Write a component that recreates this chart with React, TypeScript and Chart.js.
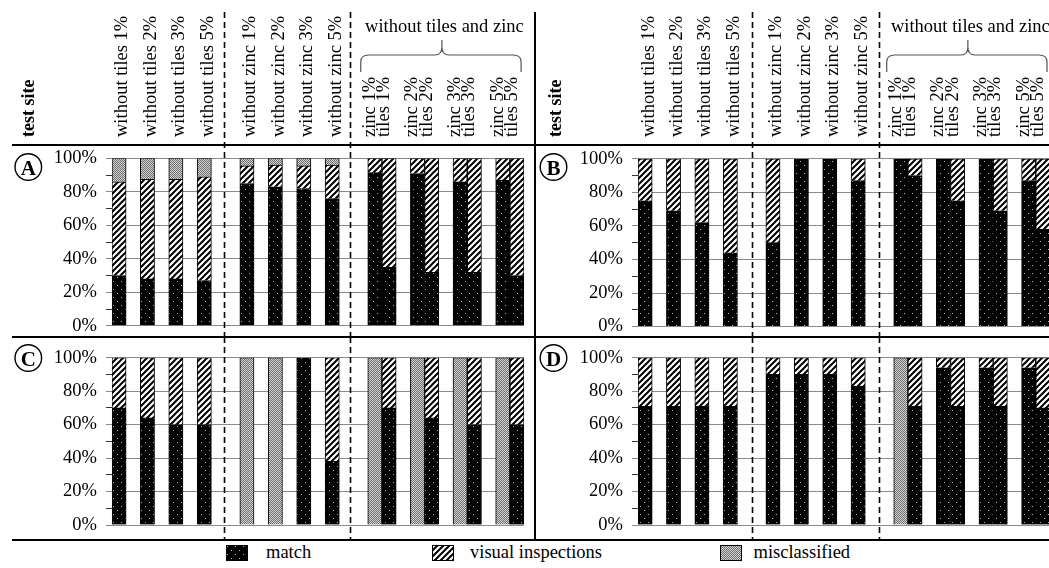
import React, { useEffect, useRef } from "react";
import { Chart, registerables } from "chart.js";

Chart.register(...registerables);

const FONT = "'Liberation Serif', 'Times New Roman', Times, serif";

// ---------- categories ----------
const SINGLE_LABELS = [
  "without tiles 1%",
  "without tiles 2%",
  "without tiles 3%",
  "without tiles 5%",
  "without zinc 1%",
  "without zinc 2%",
  "without zinc 3%",
  "without zinc 5%",
];
const PAIR_LABELS = [
  ["zinc 1%", "tiles 1%"],
  ["zinc 2%", "tiles 2%"],
  ["zinc 3%", "tiles 3%"],
  ["zinc 5%", "tiles 5%"],
];
const GROUP_TITLE = "without tiles and zinc";
const AXIS_TITLE = "test site";
const SERIES = ["match", "visual inspections", "misclassified"];
const Y_LABELED = [0, 20, 40, 60, 80, 100];

// ---------- values (percent) ----------
const A_MATCH = [30, 28, 28, 27, 85, 83, 82, 76, 91.5, 35, 91, 32, 86, 32, 87, 30];
const A_VISUAL = [56, 59.5, 59.5, 62, 10.5, 13, 13.5, 20, 8.5, 65, 9, 68, 14, 68, 13, 70];
const A_MISCL = [14, 12.5, 12.5, 11, 4.5, 4, 4.5, 4, 0, 0, 0, 0, 0, 0, 0, 0];

const B_MATCH = [75, 69, 62, 44, 50, 100, 100, 87, 100, 90, 100, 75, 100, 69, 87, 58];
const B_VISUAL = [25, 31, 38, 56, 50, 0, 0, 13, 0, 10, 0, 25, 0, 31, 13, 42];
const B_MISCL = [0, 0, 0, 0, 0, 0, 0, 0, 0, 0, 0, 0, 0, 0, 0, 0];

const C_MATCH = [70, 64, 60, 60, 0, 0, 100, 38, 0, 70, 0, 64, 0, 60, 0, 60];
const C_VISUAL = [30, 36, 40, 40, 0, 0, 0, 62, 0, 30, 0, 36, 0, 40, 0, 40];
const C_MISCL = [0, 0, 0, 0, 100, 100, 0, 0, 100, 0, 100, 0, 100, 0, 100, 0];

const D_MATCH = [71, 71, 71, 71, 90, 90, 90, 83, 0, 71, 94, 71, 94, 71, 94, 70];
const D_VISUAL = [29, 29, 29, 29, 10, 10, 10, 17, 0, 29, 6, 29, 6, 29, 6, 30];
const D_MISCL = [0, 0, 0, 0, 0, 0, 0, 0, 100, 0, 0, 0, 0, 0, 0, 0];

// ---------- layout of the category axis (B = bar slot, _ = spacer) ----------
const SLOT_PATTERN = "B_B_B_B__B_B_B_B__BB_BB_BB_BB";
const BAR_SLOTS: number[] = SLOT_PATTERN.split("")
  .map((c, i) => (c === "B" ? i : -1))
  .filter((i) => i >= 0);
const BAR_NAMES: string[] = [
  ...SINGLE_LABELS,
  ...PAIR_LABELS.flatMap((p) => p.map((s) => GROUP_TITLE + ": " + s)),
];
const SLOT_LABELS: string[] = SLOT_PATTERN.split("").map((c, i) => {
  const k = BAR_SLOTS.indexOf(i);
  return k >= 0 ? BAR_NAMES[k] : "";
});

function toSlots(values: number[]): (number | null)[] {
  const out: (number | null)[] = new Array(SLOT_PATTERN.length).fill(null);
  values.forEach((v, k) => {
    out[BAR_SLOTS[k]] = v === 0 ? null : v;
  });
  return out;
}

// ---------- patterns ----------
function makeTile(kind: string): HTMLCanvasElement {
  const c = document.createElement("canvas");
  const g = c.getContext("2d")!;
  if (kind === "match") {
    c.width = 8;
    c.height = 8;
    g.fillStyle = "#000";
    g.fillRect(0, 0, 8, 8);
    g.fillStyle = "#b4b4b4";
    g.fillRect(1, 1, 1, 1);
    g.fillRect(5, 5, 1, 1);
  } else if (kind === "visual") {
    const s = 6;
    c.width = s;
    c.height = s;
    g.fillStyle = "#fff";
    g.fillRect(0, 0, s, s);
    g.strokeStyle = "#000";
    g.lineWidth = 2;
    g.beginPath();
    g.moveTo(-1, s + 1);
    g.lineTo(s + 1, -1);
    g.moveTo(-2, 2);
    g.lineTo(2, -2);
    g.moveTo(s - 2, s + 2);
    g.lineTo(s + 2, s - 2);
    g.stroke();
  } else {
    c.width = 2;
    c.height = 2;
    g.fillStyle = "#d4d4d4";
    g.fillRect(0, 0, 2, 2);
    g.fillStyle = "#6e6e6e";
    g.fillRect(0, 0, 1, 1);
    g.fillRect(1, 1, 1, 1);
  }
  return c;
}
function makePattern(ctx: CanvasRenderingContext2D, kind: string): CanvasPattern {
  return ctx.createPattern(makeTile(kind), "repeat")!;
}

// ---------- panels ----------
type Panel = {
  letter: string;
  match: number[];
  visual: number[];
  miscl: number[];
  left: number;
  top: number;
  width: number;
  height: number;
  area: { left: number; right: number; top: number; bottom: number };
  header: boolean;
  letterPos: [number, number];
  dashTop: number;
  breaks: number[];
};

const PANELS: Panel[] = [
  {
    letter: "A", match: A_MATCH, visual: A_VISUAL, miscl: A_MISCL,
    left: 0, top: 0, width: 535, height: 337,
    area: { left: 111.9, right: 524.1, top: 158.4, bottom: 325.8 },
    header: true, letterPos: [28.3, 167], dashTop: 12, breaks: [7.375, 16.27],
  },
  {
    letter: "B", match: B_MATCH, visual: B_VISUAL, miscl: B_MISCL,
    left: 535, top: 0, width: 520, height: 337,
    area: { left: 103, right: 515, top: 158.8, bottom: 326.6 },
    header: true, letterPos: [18.5, 167], dashTop: 12, breaks: [7.5, 16.47],
  },
  {
    letter: "C", match: C_MATCH, visual: C_VISUAL, miscl: C_MISCL,
    left: 0, top: 337, width: 535, height: 203,
    area: { left: 111.9, right: 524.1, top: 20.7, bottom: 188 },
    header: false, letterPos: [28.3, 21], dashTop: 0, breaks: [7.375, 16.27],
  },
  {
    letter: "D", match: D_MATCH, visual: D_VISUAL, miscl: D_MISCL,
    left: 535, top: 337, width: 520, height: 203,
    area: { left: 103, right: 515, top: 20.7, bottom: 188 },
    header: false, letterPos: [18.5, 21], dashTop: 0, breaks: [7.5, 16.47],
  },
];

function makeConfig(p: Panel, ctx: CanvasRenderingContext2D): any {
  const pm = makePattern(ctx, "match");
  const pv = makePattern(ctx, "visual");
  const pg = makePattern(ctx, "mis");

  const decorPlugin = {
    id: "decor" + p.letter,
    afterDraw(chart: any) {
      const c = chart.ctx as CanvasRenderingContext2D;
      const x = chart.scales.x;
      c.save();
      // dashed group separators
      c.strokeStyle = "#000";
      c.lineWidth = 1.6;
      c.setLineDash([6, 4]);
      p.breaks.forEach((b) => {
        const px = Math.round(x.getPixelForValue(b)) + 0.5;
        c.beginPath();
        c.moveTo(px, p.dashTop);
        c.lineTo(px, p.height);
        c.stroke();
      });
      c.setLineDash([]);

      // circled panel letter
      const [lx, ly] = p.letterPos;
      c.lineWidth = 1.4;
      c.beginPath();
      c.arc(lx, ly, 13.3, 0, Math.PI * 2);
      c.stroke();
      c.fillStyle = "#000";
      c.font = `bold 21px ${FONT}`;
      c.textAlign = "center";
      c.textBaseline = "alphabetic";
      c.fillText(p.letter, lx, ly + 7.5);

      if (p.header) {
        const area = chart.chartArea;
        const labelBottom = 137;
        c.font = `18.5px ${FONT}`;
        c.textAlign = "left";
        c.textBaseline = "alphabetic";
        SINGLE_LABELS.forEach((lab, k) => {
          const cx = x.getPixelForValue(BAR_SLOTS[k]);
          c.save();
          c.translate(cx + 8.4, labelBottom);
          c.rotate(-Math.PI / 2);
          c.fillText(lab, 0, 0);
          c.restore();
        });
        PAIR_LABELS.forEach((lines, j) => {
          const k = SINGLE_LABELS.length + 2 * j;
          const mid = (x.getPixelForValue(BAR_SLOTS[k]) + x.getPixelForValue(BAR_SLOTS[k + 1])) / 2;
          lines.forEach((ln, i) => {
            c.save();
            c.translate(mid - 7.2 + 14.3 * i, labelBottom);
            c.rotate(-Math.PI / 2);
            c.fillText(ln, 0, 0);
            c.restore();
          });
        });
        // group title + brace
        const firstPair = BAR_SLOTS[SINGLE_LABELS.length];
        const gl = x.getPixelForValue(firstPair - 0.5);
        const gr = x.getPixelForValue(SLOT_PATTERN.length - 0.5);
        const gc = (gl + gr) / 2;
        c.textAlign = "center";
        c.fillText(GROUP_TITLE, gc - 1.5, 31.5);
        const L = gl - 7;
        const R = gr - 3;
        const C = gc - 4;
        c.strokeStyle = "#555";
        c.lineWidth = 1.2;
        c.beginPath();
        c.moveTo(L, 72);
        c.lineTo(L, 62);
        c.quadraticCurveTo(L, 55, L + 8, 55);
        c.lineTo(C - 7, 55);
        c.quadraticCurveTo(C, 55, C, 47);
        c.lineTo(C, 40);
        c.moveTo(C, 47);
        c.quadraticCurveTo(C, 55, C + 7, 55);
        c.lineTo(R - 8, 55);
        c.quadraticCurveTo(R, 55, R, 62);
        c.lineTo(R, 72);
        c.stroke();
        // axis title
        c.fillStyle = "#000";
        c.font = `bold 18px ${FONT}`;
        c.textAlign = "left";
        c.save();
        c.translate(area.left - 77.5, labelBottom);
        c.rotate(-Math.PI / 2);
        c.fillText(AXIS_TITLE, 0, 0);
        c.restore();
      }
      c.restore();
    },
  };

  const common = {
    borderColor: "#000",
    borderWidth: 1,
    stack: "s",
    barPercentage: 1,
    categoryPercentage: 1,
  };

  return {
    type: "bar",
    data: {
      labels: SLOT_LABELS,
      datasets: [
        { ...common, label: SERIES[0], data: toSlots(p.match), backgroundColor: pm },
        { ...common, label: SERIES[1], data: toSlots(p.visual), backgroundColor: pv },
        { ...common, label: SERIES[2], data: toSlots(p.miscl), backgroundColor: pg },
      ],
    },
    options: {
      responsive: false,
      animation: false,
      events: [],
      layout: {
        padding: {
          left: 0,
          top: p.area.top,
          right: p.width - p.area.right,
          bottom: p.height - p.area.bottom,
        },
      },
      plugins: {
        legend: { display: false },
        tooltip: { enabled: false },
        title: { display: false },
      },
      scales: {
        x: {
          type: "category",
          stacked: true,
          display: false,
          offset: true,
          grid: { display: false },
        },
        y: {
          stacked: true,
          min: 0,
          max: 100,
          afterFit: (s: any) => {
            s.width = p.area.left;
            s.paddingTop = 0;
            s.paddingBottom = 0;
          },
          border: { display: false },
          grid: {
            lineWidth: 1,
            tickLength: 6,
            color: (cx: any) =>
              cx.tick && Y_LABELED.includes(cx.tick.value) ? "#8a8a8a" : "rgba(0,0,0,0)",
            tickColor: (cx: any) =>
              cx.tick && Y_LABELED.includes(cx.tick.value) ? "#8a8a8a" : "#333",
          },
          ticks: {
            stepSize: 10,
            autoSkip: false,
            padding: 9,
            color: "#000",
            font: { family: FONT, size: 18.5 },
            callback: (v: any) => (Y_LABELED.includes(Number(v)) ? `${v}%` : ""),
          },
        },
      },
    },
    plugins: [decorPlugin],
  };
}

const LEGEND_ITEMS = [
  { kind: "match", box: 226, text: 266 },
  { kind: "visual", box: 432, text: 470 },
  { kind: "mis", box: 720, text: 753.5 },
];

export default function App() {
  const r0 = useRef<HTMLCanvasElement>(null);
  const r1 = useRef<HTMLCanvasElement>(null);
  const r2 = useRef<HTMLCanvasElement>(null);
  const r3 = useRef<HTMLCanvasElement>(null);
  const l0 = useRef<HTMLCanvasElement>(null);
  const l1 = useRef<HTMLCanvasElement>(null);
  const l2 = useRef<HTMLCanvasElement>(null);
  const refs = [r0, r1, r2, r3];
  const lrefs = [l0, l1, l2];

  useEffect(() => {
    const charts = PANELS.map((p, i) => {
      const cv = refs[i].current!;
      const ctx = cv.getContext("2d")!;
      return new Chart(ctx, makeConfig(p, ctx));
    });
    LEGEND_ITEMS.forEach((it, i) => {
      const cv = lrefs[i].current!;
      const g = cv.getContext("2d")!;
      g.fillStyle = makePattern(g, it.kind);
      g.fillRect(0, 0, cv.width, cv.height);
      g.strokeStyle = "#000";
      g.lineWidth = 1;
      g.strokeRect(0.5, 0.5, cv.width - 1, cv.height - 1);
    });
    return () => charts.forEach((c) => c.destroy());
  }, []);

  const line = (l: number, t: number, w: number, h: number) => (
    <div style={{ position: "absolute", left: l, top: t, width: w, height: h, background: "#000" }} />
  );

  return (
    <div
      style={{
        position: "absolute",
        left: 0,
        top: 0,
        width: 1049,
        height: 568,
        overflow: "hidden",
        background: "#fff",
      }}
    >
      {PANELS.map((p, i) => (
        <canvas
          key={p.letter}
          ref={refs[i]}
          width={p.width}
          height={p.height}
          style={{ position: "absolute", left: p.left, top: p.top, width: p.width, height: p.height }}
        />
      ))}
      {line(12, 144, 1037, 2)}
      {line(12, 336, 1037, 2)}
      {line(12, 539, 1037, 2)}
      {line(534, 12, 2, 528)}
      {LEGEND_ITEMS.map((it, i) => (
        <React.Fragment key={it.kind}>
          <canvas
            ref={lrefs[i]}
            width={22}
            height={16}
            style={{ position: "absolute", left: it.box, top: 545, width: 22, height: 16 }}
          />
          <span
            style={{
              position: "absolute",
              left: it.text,
              top: 542.5,
              fontFamily: FONT,
              fontSize: 18.5,
              lineHeight: "18.5px",
              color: "#000",
              whiteSpace: "nowrap",
            }}
          >
            {SERIES[i]}
          </span>
        </React.Fragment>
      ))}
    </div>
  );
}
